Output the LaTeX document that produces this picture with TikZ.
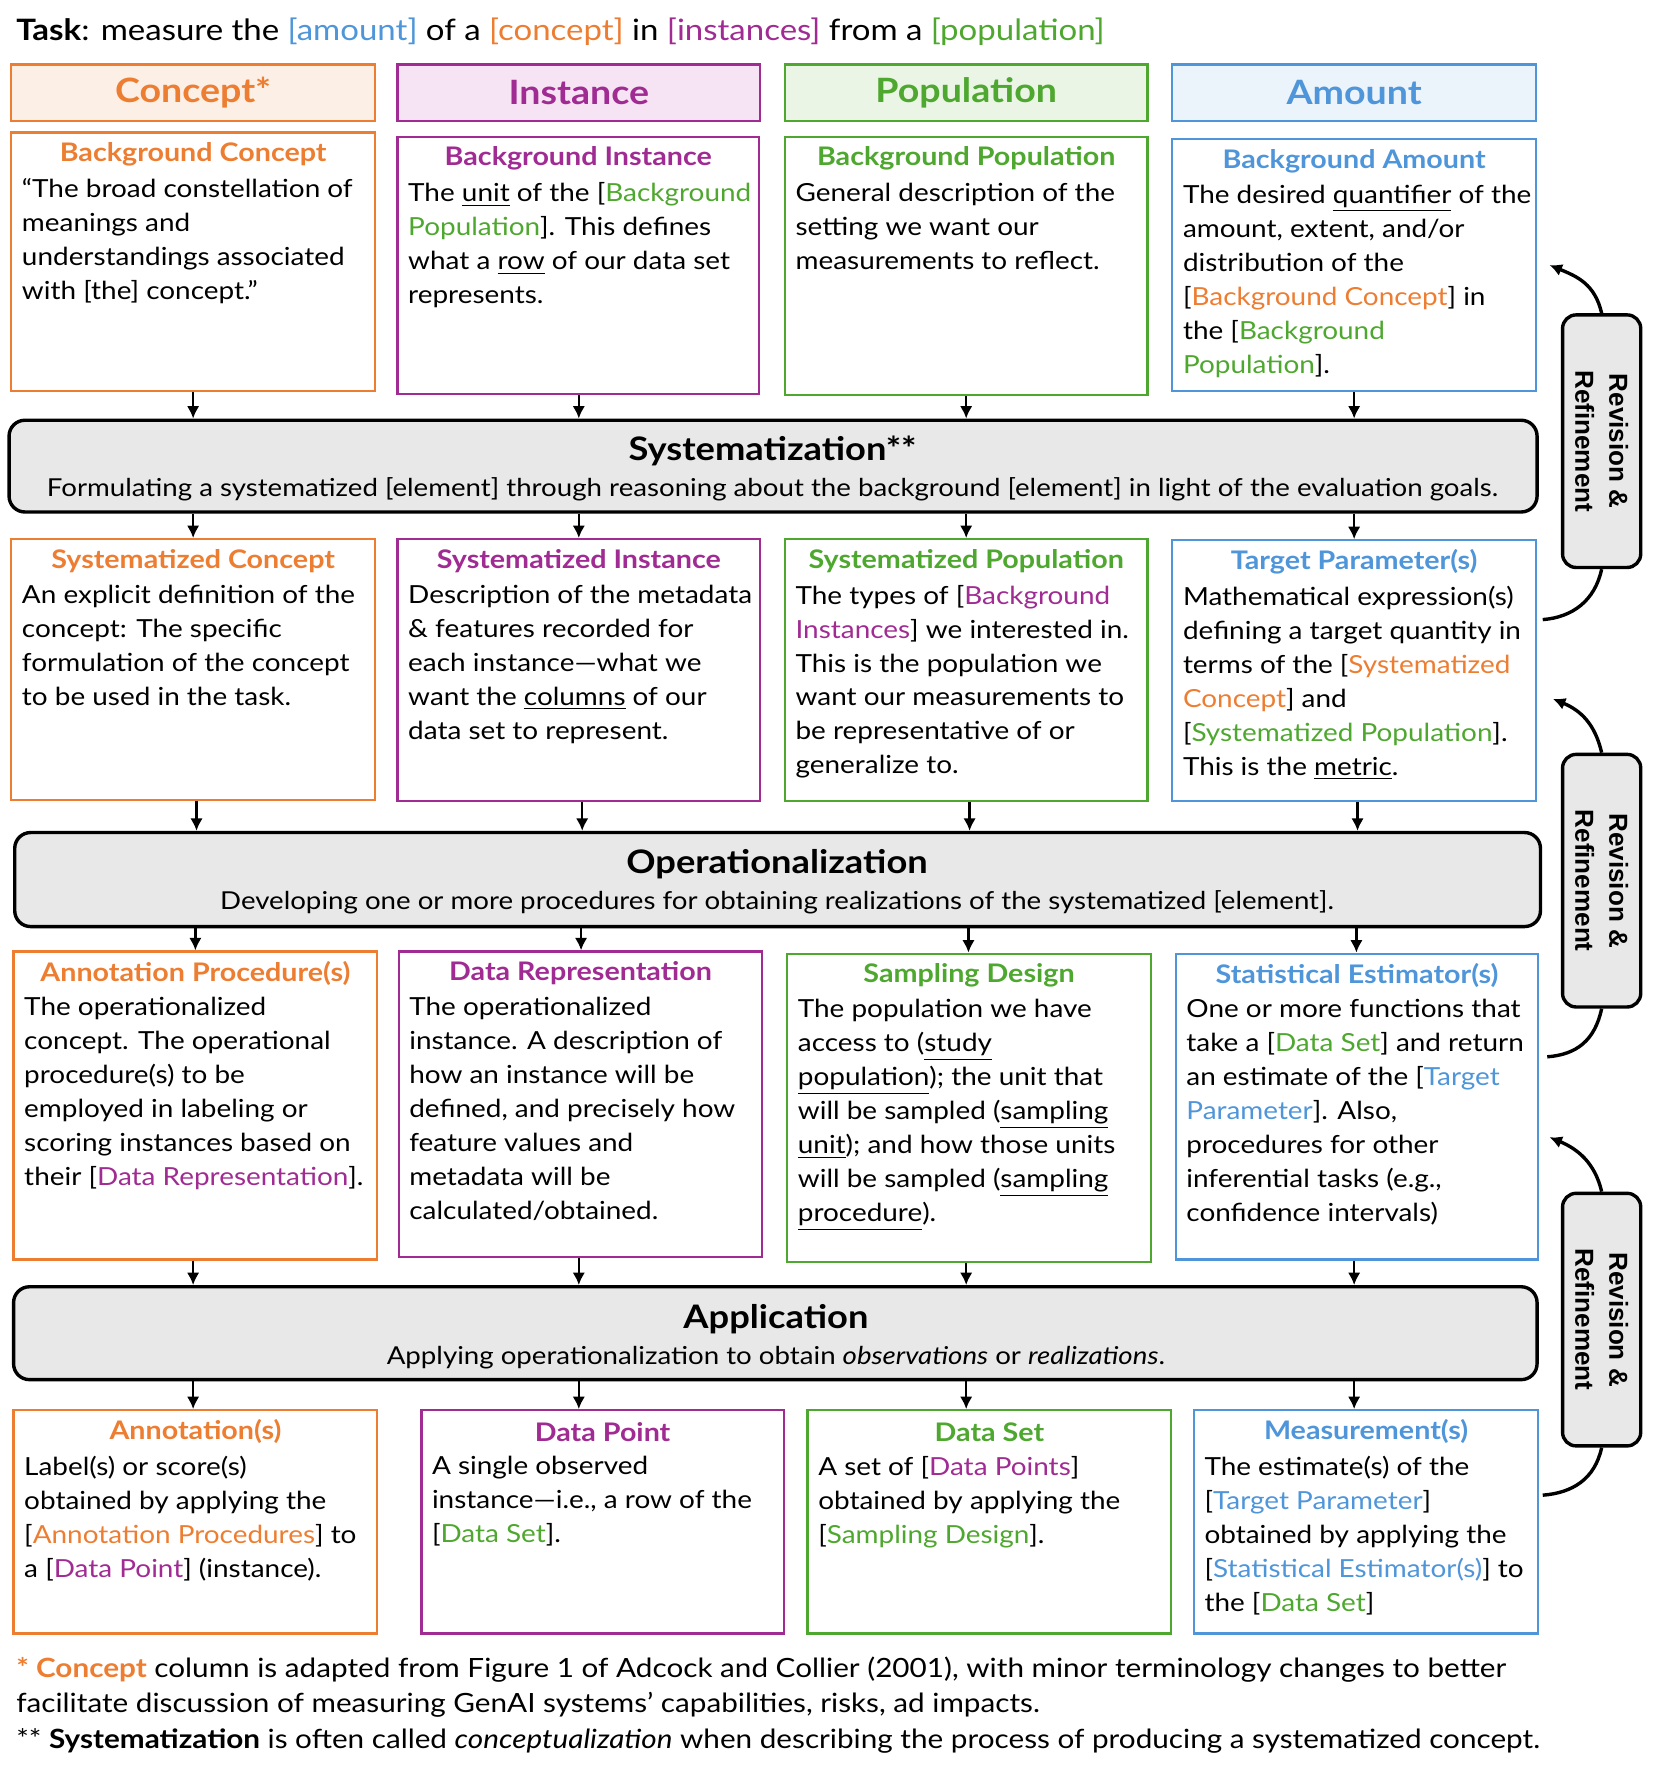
\documentclass[tikz,border=0pt]{standalone}
\usepackage{fontspec}
\setmainfont{Lato}[FakeStretch=1.12]
\newfontfamily\revfont{Liberation Sans}
\usetikzlibrary{fit,calc,arrows.meta}
\definecolor{cO}{HTML}{ED7D31}
\definecolor{cP}{HTML}{A02B93}
\definecolor{cG}{HTML}{4EA72E}
\definecolor{cB}{HTML}{4E95D9}
\definecolor{fO}{HTML}{FCEFE6}
\definecolor{fP}{HTML}{F6E4F4}
\definecolor{fG}{HTML}{EAF5E5}
\definecolor{fB}{HTML}{EBF3FB}
\definecolor{barfill}{HTML}{E8E8E8}
\newcommand\tO[1]{\textcolor{cO}{#1}}
\newcommand\tP[1]{\textcolor{cP}{#1}}
\newcommand\tG[1]{\textcolor{cG}{#1}}
\newcommand\tB[1]{\textcolor{cB}{#1}}
\newcommand\cbox[8]{%
  \node[fit={(#3,#4) (#5,#6)}, inner sep=0pt, draw=#2, line width=1pt] (#1) {};
  \node[ttl, text=#2] (#1t) at ($(#1.north)+(0,20)$) {#7};
  \node[bdy] (#1b) at ($(#1.north west)+(10,41)$) {#8};
}
\begin{document}
\begin{tikzpicture}[x=0.5pt,y=-0.5pt,
  arr/.style={-{Latex[length=5.5pt,width=5.5pt]}, line width=1pt},
  ttl/.style={font=\fontsize{11.3}{15}\selectfont\bfseries, inner sep=0pt},
  bdy/.style={anchor=north west, inner sep=0pt, align=left, font=\fontsize{11}{15}\selectfont},
  hdr/.style={inner sep=0pt, font=\fontsize{14.8}{16}\selectfont\bfseries},
  bar/.style={draw=black, line width=1.5pt, fill=barfill, rounded corners=7pt, inner sep=0pt},
  bart/.style={inner sep=0pt, font=\fontsize{14.3}{16}\selectfont\bfseries},
  bars/.style={inner sep=0pt, font=\fontsize{10.9}{15}\selectfont},
  fn/.style={anchor=west, inner sep=0pt, font=\fontsize{11.7}{15}\selectfont},
  rev/.style={draw=black, line width=1.5pt, fill=barfill, rounded corners=6pt, rotate=-90,
    minimum width=111.5pt, minimum height=34.5pt, align=center, inner sep=0pt,
    font=\revfont\bfseries\fontsize{11.5}{15}\selectfont}]
\useasboundingbox (0,0) rectangle (1466,1575);

% title
\node[anchor=west, inner sep=0pt, font=\fontsize{13}{15}\selectfont] (title) at (14,28)
  {\textbf{Task}: measure the \tB{[amount]} of a \tO{[concept]} in \tP{[instances]} from a \tG{[population]}};

% headers
\node[fit={(10,57) (331,107)}, inner sep=0pt, line width=1pt, draw=cO, fill=fO] (hC) {};
\node[fit={(351,57) (671,107)}, inner sep=0pt, line width=1pt, draw=cP, fill=fP] (hI) {};
\node[fit={(693,57) (1013,107)}, inner sep=0pt, line width=1pt, draw=cG, fill=fG] (hP) {};
\node[fit={(1035,57) (1356,107)}, inner sep=0pt, line width=1pt, draw=cB, fill=fB] (hA) {};
\node[hdr, text=cO] (hCt) at (hC.center) {Concept*};
\node[hdr, text=cP] (hIt) at (hI.center) {Instance};
\node[hdr, text=cG] (hPt) at (hP.center) {Population};
\node[hdr, text=cB] (hAt) at (hA.center) {Amount};

% row 1
\cbox{bc}{cO}{10}{117}{331}{345}{Background Concept}
  {“The broad constellation of\\meanings and\\understandings associated\\with [the] concept.”}
\cbox{bi}{cP}{351}{121}{670}{348}{Background Instance}
  {The \underline{unit} of the [\tG{Background}\\\tG{Population}].  This defines\\what a \underline{row} of our data set\\represents.}
\cbox{bp}{cG}{693}{121}{1013}{349}{Background Population}
  {General description of the\\setting we want our\\measurements to reflect.}
\cbox{ba}{cB}{1035}{123}{1356}{345}{Background Amount}
  {The desired \underline{quantifier} of the\\amount, extent, and/or\\distribution of the\\{}[\tO{Background Concept}] in\\the [\tG{Background}\\\tG{Population}].}

% systematization
\node[bar, fit={(8,371) (1357,452)}] (sys) {};
\node[bart] (syst) at (682,398) {Systematization**};
\node[bars] (syss) at (682,432) {Formulating a systematized [element] through reasoning about the background [element] in light of the evaluation goals.};

% row 2
\cbox{sc}{cO}{10}{476}{331}{706}{Systematized Concept}
  {An explicit definition of the\\concept: The specific\\formulation of the concept\\to be used in the task.}
\cbox{si}{cP}{351}{476}{671}{707}{Systematized Instance}
  {Description of the metadata\\\& features recorded for\\each instance—what we\\want the \underline{columns} of our\\data set to represent.}
\cbox{sp}{cG}{693}{476}{1013}{707}{Systematized Population}
  {The types of [\tP{Background}\\\tP{Instances}] we interested in.\\This is the population we\\want our measurements to\\be representative of or\\generalize to.}
\cbox{tp}{cB}{1035}{477}{1356}{707}{Target Parameter(s)}
  {Mathematical expression(s)\\defining a target quantity in\\terms of the [\tO{Systematized}\\\tO{Concept}] and\\{}[\tG{Systematized Population}].\\This is the \underline{metric}.}

% operationalization
\node[bar, fit={(13,735) (1360,818)}] (op) {};
\node[bart] (opt) at (686,763) {Operationalization};
\node[bars] (ops) at (686,797) {Developing one or more procedures for obtaining realizations of the systematized [element].};

% row 3
\cbox{ap}{cO}{12}{840}{333}{1112}{Annotation Procedure(s)}
  {The operationalized\\concept. The operational\\procedure(s) to be\\employed in labeling or\\scoring instances based on\\their [\tP{Data Representation}].}
\cbox{dr}{cP}{352}{840}{673}{1110}{Data Representation}
  {The operationalized\\instance.  A description of\\how an instance will be\\defined, and precisely how\\feature values and\\metadata will be\\calculated/obtained.}
\cbox{sd}{cG}{695}{842}{1016}{1114}{Sampling Design}
  {The population we have\\access to (\underline{study}\\\underline{population}); the unit that\\will be sampled (\underline{sampling}\\\underline{unit}); and how those units\\will be sampled (\underline{sampling}\\\underline{procedure}).}
\cbox{se}{cB}{1038}{842}{1358}{1112}{Statistical Estimator(s)}
  {One or more  functions that\\take a [\tG{Data Set}] and return\\an estimate of the [\tB{Target}\\\tB{Parameter}].  Also,\\procedures for other\\inferential tasks (e.g.,\\confidence intervals)}

% application
\node[bar, fit={(12,1136) (1357,1218)}] (app) {};
\node[bart] (appt) at (685,1165) {Application};
\node[bars] (apps) at (685,1199) {Applying operationalization to obtain \textit{observations} or \textit{realizations}.};

% row 4
\cbox{an}{cO}{12}{1245}{333}{1442}{Annotation(s)}
  {Label(s) or score(s)\\obtained by applying the\\{}[\tO{Annotation Procedures}] to\\a [\tP{Data Point}] (instance).}
\cbox{dp}{cP}{372}{1245}{692}{1442}{Data Point}
  {A single observed\\instance—i.e., a row of the\\{}[\tG{Data Set}].}
\cbox{ds}{cG}{713}{1245}{1034}{1442}{Data Set}
  {A set of [\tP{Data Points}]\\obtained by applying the\\{}[\tG{Sampling Design}].}
\cbox{ms}{cB}{1054}{1245}{1358}{1442}{Measurement(s)}
  {The estimate(s) of the\\{}[\tB{Target Parameter}]\\obtained by applying the\\{}[\tB{Statistical Estimator(s)}] to\\the [\tG{Data Set}]}

% arrows
\foreach \h/\a/\b in {hC/bc/sc, hI/bi/si, hP/bp/sp, hA/ba/tp}{
  \draw[arr] (\h.south |- \a.south) -- (\h.south |- sys.north);
  \draw[arr] (\h.south |- sys.south) -- (\h.south |- \b.north);
}
\foreach \h/\a/\b in {hC/sc/ap, hI/si/dr, hP/sp/sd, hA/tp/se}{
  \draw[arr] ([xshift=1.5pt]\h.south |- \a.south) -- ([xshift=1.5pt]\h.south |- op.north);
  \draw[arr] ([xshift=1pt]\h.south |- op.south) -- ([xshift=1pt]\h.south |- \b.north);
}
\foreach \h/\a/\b in {hC/ap/an, hI/dr/dp, hP/sd/ds, hA/se/ms}{
  \draw[arr] (\h.south |- \a.south) -- (\h.south |- app.north);
  \draw[arr] (\h.south |- app.south) -- (\h.south |- \b.north);
}

% revision & refinement
\node[rev] (r1) at (1414,389.5) {Revision \&\\Refinement};
\node[rev] (r2) at (1414,777.5) {Revision \&\\Refinement};
\node[rev] (r3) at (1414,1165) {Revision \&\\Refinement};
\coordinate (r1a) at (1368,234);
\coordinate (r1b) at (1362,547);
\coordinate (r2a) at (1371,617);
\coordinate (r2b) at (1366,933);
\coordinate (r3a) at (1368,1004);
\coordinate (r3b) at (1362,1320);
\foreach \r in {r1,r2,r3}{
  \draw[arr, line width=1.5pt] (\r.west) .. controls +(-6,-26) and +(24,10) .. (\r a);
  \draw[line width=1.5pt] (\r.east) .. controls +(-6,28) and +(26,-2) .. (\r b);
}

% footnotes
\node[fn] (f1) at (14,1474) {\textcolor{cO}{\textbf{* Concept}} column is adapted from Figure 1 of Adcock and Collier (2001), with minor terminology changes to better};
\node[fn] (f2) at (14,1505) {facilitate discussion of measuring GenAI systems’ capabilities, risks, ad impacts.};
\node[fn] (f3) at (14,1537) {** \textbf{Systematization} is often called \textit{conceptualization} when describing the process of producing a systematized concept.};
\end{tikzpicture}
\end{document}
